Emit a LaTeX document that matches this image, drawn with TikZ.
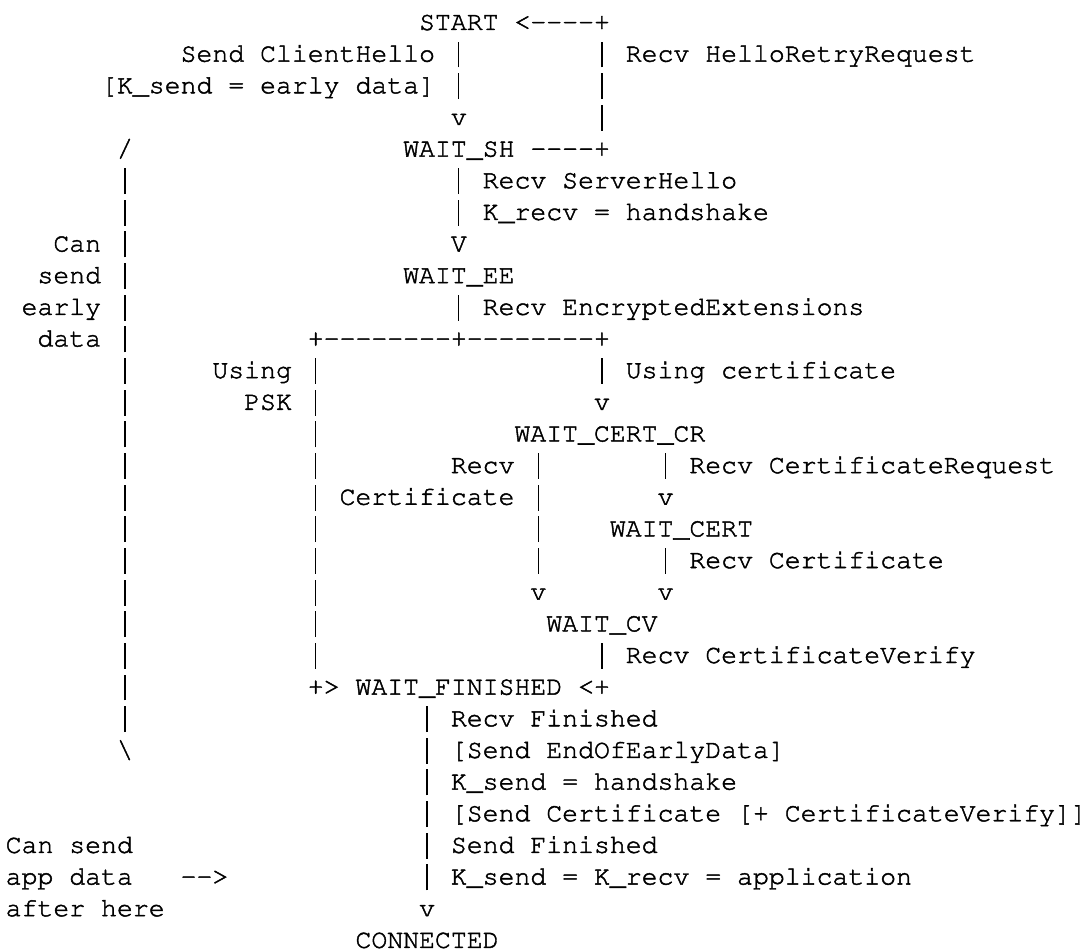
\documentclass[tikz,border=0pt]{standalone}
\usepackage[T1]{fontenc}
\renewcommand{\ttdefault}{pcr}
\newcommand{\vb}{\makebox[0.6em]{\rule[-0.22em]{1.2pt}{0.98em}}}
\begin{document}
\begin{tikzpicture}
	\useasboundingbox (0pt,0pt) rectangle (1087pt,-949pt);
	\begin{scope}[x=15.9pt, y=-31.65pt, shift={(5.5pt,-30pt)},
		every node/.style={anchor=base west, inner sep=0pt,
			font=\ttfamily\fontsize{26.5}{31.6}\selectfont\special{pdf:literal 2 Tr 0.45 w}}]
		% start and hello retry loop
		\node (start)  at (26,0) {START <-{}-{}-{}-+};
		\node (sendch) at (11,1) {Send ClientHello \vb};
		\node (hrr)    at (37,1) {\vb{} Recv HelloRetryRequest};
		\node (early)  at (6 ,2) {[K\_send = early data] \vb};
		\node (hrrb)   at (37,2) {\vb};
		\node (tosh)   at (28,3) {v};
		\node (hrrc)   at (37,3) {\vb};
		\node (edtop)  at (7 ,4) {/};
		\node (waitsh) at (25,4) {WAIT\_SH -{}-{}-{}-+};
		% server hello
		\node (eda)    at (7 ,5) {\vb};
		\node (recvsh) at (28,5) {\vb{} Recv ServerHello};
		\node (edb)    at (7 ,6) {\vb};
		\node (krecv)  at (28,6) {\vb{} K\_recv = handshake};
		\node (can)    at (3 ,7) {Can \vb};
		\node (toee)   at (28,7) {V};
		\node (send)   at (2 ,8) {send \vb};
		\node (waitee) at (25,8) {WAIT\_EE};
		\node (earlyw) at (1 ,9) {early \vb};
		\node (recvee) at (28,9) {\vb{} Recv EncryptedExtensions};
		\node (data)   at (2 ,10) {data \vb};
		\node (split)  at (19,10) {+-{}-{}-{}-{}-{}-{}-{}-+-{}-{}-{}-{}-{}-{}-{}-+};
		% psk and certificate branches
		\node (edc)    at (7 ,11) {\vb};
		\node (using)  at (13,11) {Using \vb};
		\node (usecrt) at (37,11) {\vb{} Using certificate};
		\node (edd)    at (7 ,12) {\vb};
		\node (psk)    at (15,12) {PSK \vb};
		\node (tocr)   at (37,12) {v};
		\node (ede)    at (7 ,13) {\vb};
		\node (pska)   at (19,13) {\vb};
		\node (waitcr) at (32,13) {WAIT\_CERT\_CR};
		\node (edf)    at (7 ,14) {\vb};
		\node (pskb)   at (19,14) {\vb};
		\node (recv)   at (28,14) {Recv \vb};
		\node (recvcr) at (41,14) {\vb{} Recv CertificateRequest};
		\node (edg)    at (7 ,15) {\vb};
		\node (cert)   at (19,15) {\vb{} Certificate \vb};
		\node (tocert) at (41,15) {v};
		\node (edh)    at (7 ,16) {\vb};
		\node (pskc)   at (19,16) {\vb};
		\node (crta)   at (33,16) {\vb};
		\node (waitct) at (38,16) {WAIT\_CERT};
		\node (edi)    at (7 ,17) {\vb};
		\node (pskd)   at (19,17) {\vb};
		\node (crtb)   at (33,17) {\vb};
		\node (recvct) at (41,17) {\vb{} Recv Certificate};
		\node (edj)    at (7 ,18) {\vb};
		\node (pske)   at (19,18) {\vb};
		\node (tocva)  at (33,18) {v};
		\node (tocvb)  at (41,18) {v};
		\node (edk)    at (7 ,19) {\vb};
		\node (pskf)   at (19,19) {\vb};
		\node (waitcv) at (34,19) {WAIT\_CV};
		\node (edl)    at (7 ,20) {\vb};
		\node (pskg)   at (19,20) {\vb};
		\node (recvcv) at (37,20) {\vb{} Recv CertificateVerify};
		% finished
		\node (edm)    at (7 ,21) {\vb};
		\node (waitfn) at (19,21) {+> WAIT\_FINISHED <+};
		\node (edn)    at (7 ,22) {\vb};
		\node (recvfn) at (26,22) {\vb{} Recv Finished};
		\node (edbot)  at (7 ,23) {\textbackslash};
		\node (eoed)   at (26,23) {\vb{} [Send EndOfEarlyData]};
		\node (ksend)  at (26,24) {\vb{} K\_send = handshake};
		\node (sendct) at (26,25) {\vb{} [Send Certificate [+ CertificateVerify]]};
		\node (cansnd) at (0 ,26) {Can send};
		\node (sendfn) at (26,26) {\vb{} Send Finished};
		\node (appdat) at (0 ,27) {app data};
		\node (arrow)  at (11,27) {-{}->};
		\node (kapp)   at (26,27) {\vb{} K\_send = K\_recv = application};
		\node (after)  at (0 ,28) {after here};
		\node (toconn) at (26,28) {v};
		\node (conn)   at (22,29) {CONNECTED};
	\end{scope}
\end{tikzpicture}
\end{document}
